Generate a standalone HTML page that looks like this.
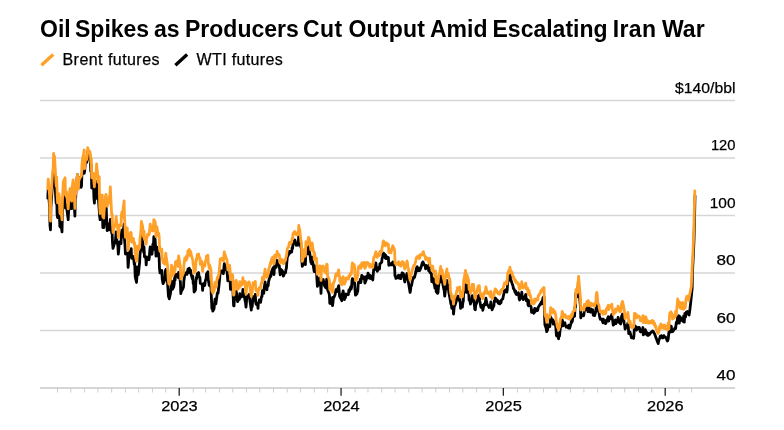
<!DOCTYPE html>
<html><head><meta charset="utf-8">
<style>
html,body{margin:0;padding:0;background:#fff;}
body{width:784px;height:430px;overflow:hidden;position:relative;font-family:"Liberation Sans",sans-serif;color:#000;}
#title{position:absolute;left:0;top:16px;font-size:23px;font-weight:bold;white-space:nowrap;line-height:26px;width:784px;height:26px;}
#title span{position:absolute;top:0;}
.leg{position:absolute;top:50.5px;font-size:16px;line-height:18px;white-space:nowrap;letter-spacing:0.45px;-webkit-text-stroke:0.25px #000;}
svg{position:absolute;left:0;top:0;}
svg text{font-family:"Liberation Sans",sans-serif;fill:#000;stroke:#000;stroke-width:0.25px;}
</style></head><body>
<div id="title"><span style="left:40px">Oil</span> <span style="left:75px">Spikes</span> <span style="left:154px">as</span> <span style="left:185px">Producers</span> <span style="left:303px;letter-spacing:0.4px">Cut</span> <span style="left:348.5px;letter-spacing:0.2px">Output</span> <span style="left:430px">Amid</span> <span style="left:492.5px">Escalating</span> <span style="left:612.7px;letter-spacing:0.4px">Iran</span> <span style="left:662px">War</span></div>
<div class="leg" style="left:62.5px">Brent futures</div>
<div class="leg" style="left:196.6px;letter-spacing:0.35px">WTI futures</div>
<svg width="784" height="430" viewBox="0 0 784 430">
<line x1="41.4" y1="65.3" x2="53.2" y2="54.5" stroke="#ffa028" stroke-width="3.3"/>
<line x1="175.4" y1="65.3" x2="187.1" y2="54.5" stroke="#000" stroke-width="3.3"/>
<g stroke="#d6d6d6" stroke-width="1.3">
<line x1="40" x2="735" y1="100.5" y2="100.5"/>
<line x1="40" x2="735" y1="158" y2="158"/>
<line x1="40" x2="735" y1="215.5" y2="215.5"/>
<line x1="40" x2="735" y1="273" y2="273"/>
<line x1="40" x2="735" y1="330.5" y2="330.5"/>
</g>
<line x1="40" x2="735" y1="388" y2="388" stroke="#d6d6d6" stroke-width="2"/>
<line x1="57.56" x2="57.56" y1="388" y2="392.5" stroke="#ccc" stroke-width="1"/>
<line x1="70.86" x2="70.86" y1="388" y2="392.5" stroke="#ccc" stroke-width="1"/>
<line x1="84.61" x2="84.61" y1="388" y2="392.5" stroke="#ccc" stroke-width="1"/>
<line x1="97.91" x2="97.91" y1="388" y2="392.5" stroke="#ccc" stroke-width="1"/>
<line x1="111.66" x2="111.66" y1="388" y2="392.5" stroke="#ccc" stroke-width="1"/>
<line x1="125.40" x2="125.40" y1="388" y2="392.5" stroke="#ccc" stroke-width="1"/>
<line x1="138.70" x2="138.70" y1="388" y2="392.5" stroke="#ccc" stroke-width="1"/>
<line x1="152.45" x2="152.45" y1="388" y2="392.5" stroke="#ccc" stroke-width="1"/>
<line x1="165.75" x2="165.75" y1="388" y2="392.5" stroke="#ccc" stroke-width="1"/>
<line x1="179.20" x2="179.20" y1="388" y2="395.8" stroke="#222" stroke-width="1.3"/>
<line x1="193.25" x2="193.25" y1="388" y2="392.5" stroke="#ccc" stroke-width="1"/>
<line x1="205.66" x2="205.66" y1="388" y2="392.5" stroke="#ccc" stroke-width="1"/>
<line x1="219.41" x2="219.41" y1="388" y2="392.5" stroke="#ccc" stroke-width="1"/>
<line x1="232.71" x2="232.71" y1="388" y2="392.5" stroke="#ccc" stroke-width="1"/>
<line x1="246.46" x2="246.46" y1="388" y2="392.5" stroke="#ccc" stroke-width="1"/>
<line x1="259.76" x2="259.76" y1="388" y2="392.5" stroke="#ccc" stroke-width="1"/>
<line x1="273.51" x2="273.51" y1="388" y2="392.5" stroke="#ccc" stroke-width="1"/>
<line x1="287.25" x2="287.25" y1="388" y2="392.5" stroke="#ccc" stroke-width="1"/>
<line x1="300.56" x2="300.56" y1="388" y2="392.5" stroke="#ccc" stroke-width="1"/>
<line x1="314.30" x2="314.30" y1="388" y2="392.5" stroke="#ccc" stroke-width="1"/>
<line x1="327.61" x2="327.61" y1="388" y2="392.5" stroke="#ccc" stroke-width="1"/>
<line x1="341.05" x2="341.05" y1="388" y2="395.8" stroke="#222" stroke-width="1.3"/>
<line x1="355.10" x2="355.10" y1="388" y2="392.5" stroke="#ccc" stroke-width="1"/>
<line x1="367.96" x2="367.96" y1="388" y2="392.5" stroke="#ccc" stroke-width="1"/>
<line x1="381.70" x2="381.70" y1="388" y2="392.5" stroke="#ccc" stroke-width="1"/>
<line x1="395.01" x2="395.01" y1="388" y2="392.5" stroke="#ccc" stroke-width="1"/>
<line x1="408.75" x2="408.75" y1="388" y2="392.5" stroke="#ccc" stroke-width="1"/>
<line x1="422.06" x2="422.06" y1="388" y2="392.5" stroke="#ccc" stroke-width="1"/>
<line x1="435.80" x2="435.80" y1="388" y2="392.5" stroke="#ccc" stroke-width="1"/>
<line x1="449.55" x2="449.55" y1="388" y2="392.5" stroke="#ccc" stroke-width="1"/>
<line x1="462.85" x2="462.85" y1="388" y2="392.5" stroke="#ccc" stroke-width="1"/>
<line x1="476.60" x2="476.60" y1="388" y2="392.5" stroke="#ccc" stroke-width="1"/>
<line x1="489.90" x2="489.90" y1="388" y2="392.5" stroke="#ccc" stroke-width="1"/>
<line x1="503.35" x2="503.35" y1="388" y2="395.8" stroke="#222" stroke-width="1.3"/>
<line x1="517.39" x2="517.39" y1="388" y2="392.5" stroke="#ccc" stroke-width="1"/>
<line x1="529.81" x2="529.81" y1="388" y2="392.5" stroke="#ccc" stroke-width="1"/>
<line x1="543.56" x2="543.56" y1="388" y2="392.5" stroke="#ccc" stroke-width="1"/>
<line x1="556.86" x2="556.86" y1="388" y2="392.5" stroke="#ccc" stroke-width="1"/>
<line x1="570.61" x2="570.61" y1="388" y2="392.5" stroke="#ccc" stroke-width="1"/>
<line x1="583.91" x2="583.91" y1="388" y2="392.5" stroke="#ccc" stroke-width="1"/>
<line x1="597.66" x2="597.66" y1="388" y2="392.5" stroke="#ccc" stroke-width="1"/>
<line x1="611.40" x2="611.40" y1="388" y2="392.5" stroke="#ccc" stroke-width="1"/>
<line x1="624.70" x2="624.70" y1="388" y2="392.5" stroke="#ccc" stroke-width="1"/>
<line x1="638.45" x2="638.45" y1="388" y2="392.5" stroke="#ccc" stroke-width="1"/>
<line x1="651.75" x2="651.75" y1="388" y2="392.5" stroke="#ccc" stroke-width="1"/>
<line x1="665.20" x2="665.20" y1="388" y2="395.8" stroke="#222" stroke-width="1.3"/>
<line x1="679.25" x2="679.25" y1="388" y2="392.5" stroke="#ccc" stroke-width="1"/>
<line x1="691.66" x2="691.66" y1="388" y2="392.5" stroke="#ccc" stroke-width="1"/>
<g font-size="15.5" text-anchor="end" lengthAdjust="spacingAndGlyphs">
<text x="735.5" y="93.2" textLength="60.4" lengthAdjust="spacingAndGlyphs">$140/bbl</text>
<text x="735.5" y="150.3" textLength="24.6" lengthAdjust="spacingAndGlyphs">120</text>
<text x="735.5" y="208.3" textLength="25.8" lengthAdjust="spacingAndGlyphs">100</text>
<text x="735.5" y="265.3" textLength="19" lengthAdjust="spacingAndGlyphs">80</text>
<text x="735.5" y="323.3" textLength="19" lengthAdjust="spacingAndGlyphs">60</text>
<text x="735.5" y="380.3" textLength="19" lengthAdjust="spacingAndGlyphs">40</text>
</g>
<g font-size="15.5" text-anchor="middle">
<text x="179.5" y="411.2" textLength="36.5" lengthAdjust="spacingAndGlyphs">2023</text>
<text x="341.4" y="411.2" textLength="36.5" lengthAdjust="spacingAndGlyphs">2024</text>
<text x="503.6" y="411.2" textLength="36.5" lengthAdjust="spacingAndGlyphs">2025</text>
<text x="665.3" y="411.2" textLength="36.5" lengthAdjust="spacingAndGlyphs">2026</text>
</g>
<polyline fill="none" stroke="#000" stroke-width="2.8" stroke-linejoin="round" stroke-linecap="round" points="47.8,198.2 48.2,188.7 49.6,206.8 50.0,225.7 50.5,229.8 50.9,206.9 51.3,202.0 52.7,180.7 53.1,181.7 53.6,172.6 54.0,180.0 54.5,175.5 55.8,198.4 56.2,203.3 56.7,193.0 57.1,214.7 57.6,217.6 58.9,206.1 59.3,209.9 59.8,226.3 60.2,226.9 60.7,220.5 62.0,231.9 62.4,213.8 62.9,203.3 63.3,195.5 65.1,191.9 65.5,208.1 66.0,207.6 66.4,204.6 66.9,209.5 68.2,219.7 68.6,210.6 69.1,209.7 69.5,200.1 70.0,202.0 71.3,200.6 71.7,208.6 72.2,193.0 72.6,191.8 73.1,187.4 74.4,206.6 74.9,216.2 75.3,199.1 75.7,197.9 76.2,185.3 77.5,174.7 78.0,179.8 78.4,187.9 78.8,180.4 79.3,177.5 80.6,185.9 81.1,187.4 81.5,185.8 81.9,175.0 82.4,172.2 84.2,173.3 84.6,171.6 85.0,167.0 85.5,161.2 86.8,162.3 87.3,159.7 87.7,151.9 88.2,153.7 88.6,156.1 89.9,155.3 90.4,161.1 90.8,171.5 91.3,164.9 91.7,188.0 93.5,184.9 93.9,197.7 94.4,203.2 94.8,193.6 96.1,188.0 96.6,181.7 97.0,187.4 97.5,198.9 97.9,191.3 99.7,216.9 100.1,219.7 100.6,207.7 101.0,201.7 102.3,203.7 102.8,227.5 103.2,226.1 103.7,227.6 104.1,222.4 105.4,208.0 105.9,203.4 106.3,209.0 106.8,226.0 107.2,230.7 108.6,225.0 109.0,229.9 109.4,223.4 109.9,225.8 110.3,219.5 111.7,233.1 112.1,231.5 112.5,242.4 113.0,248.4 113.4,247.1 114.8,242.1 115.2,242.8 115.6,238.7 116.1,231.8 116.5,238.2 117.9,245.9 118.3,254.2 118.8,249.7 119.2,242.8 119.6,242.0 121.0,243.6 121.4,233.5 121.9,230.2 122.3,237.0 122.7,235.5 124.1,224.1 124.5,239.5 125.0,245.5 125.4,254.0 125.8,253.2 127.6,253.2 128.1,267.4 128.5,262.8 128.9,253.5 130.3,250.6 130.7,252.0 131.2,248.6 131.6,258.3 132.1,258.3 133.4,256.5 133.8,260.2 134.3,264.5 134.7,263.0 135.2,276.6 136.5,282.5 136.9,277.3 137.4,266.8 137.8,269.5 138.3,274.5 139.6,262.6 140.0,254.3 140.5,250.7 140.9,248.7 141.4,236.7 142.7,241.0 143.1,246.1 143.6,252.1 144.0,246.8 144.5,256.9 145.8,257.3 146.2,264.9 146.7,257.0 147.1,260.0 147.6,258.5 148.9,259.8 149.3,257.7 149.8,250.3 150.2,246.9 150.7,250.3 152.0,254.2 152.5,248.9 152.9,244.2 153.3,249.5 153.8,236.7 155.1,239.1 155.6,247.4 156.0,256.2 156.4,254.4 156.9,247.2 158.2,256.1 158.7,253.1 159.1,256.9 159.5,268.3 160.0,272.8 161.3,272.9 161.8,270.3 162.2,278.9 163.1,283.7 164.4,280.9 164.9,278.2 165.3,271.4 165.8,269.5 166.2,273.1 167.5,281.8 168.0,289.5 168.4,296.0 168.9,297.6 169.3,298.8 170.6,292.6 171.1,286.3 171.5,280.8 172.0,284.2 172.4,289.4 173.7,286.8 174.2,284.2 174.6,277.9 175.1,280.2 175.5,274.3 177.3,274.4 177.7,276.0 178.2,277.6 178.6,272.3 180.4,281.8 180.8,293.6 181.3,291.2 181.7,290.9 183.0,288.4 183.5,287.0 183.9,280.4 184.4,277.6 184.8,273.4 186.6,272.5 187.0,274.5 187.5,272.1 187.9,269.2 189.3,268.3 189.7,272.6 190.1,272.6 190.6,270.1 191.0,273.9 192.4,279.0 192.8,276.2 193.2,283.3 193.7,284.8 194.1,292.0 195.5,289.9 195.9,281.2 196.4,277.4 196.8,278.6 197.2,273.8 198.6,272.6 199.0,275.7 199.5,277.1 199.9,277.3 200.3,283.5 202.1,284.0 202.6,290.4 203.0,286.3 203.4,283.6 204.8,285.4 205.2,281.5 205.7,279.6 206.1,278.3 206.5,273.9 207.9,271.7 208.3,280.0 208.8,282.6 209.2,285.3 209.7,282.5 211.0,287.9 211.4,297.9 211.9,308.6 212.3,306.5 212.8,311.1 214.1,308.5 214.5,303.7 215.0,299.2 215.4,301.9 215.9,303.9 217.2,293.7 217.6,292.6 218.1,293.2 218.5,289.2 219.0,285.4 220.3,271.8 220.7,271.0 221.2,271.2 221.6,271.0 223.4,273.7 223.8,268.6 224.3,263.6 224.7,266.8 225.2,265.8 226.5,270.6 226.9,270.5 227.4,275.4 227.8,280.8 228.3,279.1 229.6,276.6 230.1,281.4 230.5,289.4 230.9,288.1 231.4,282.3 232.7,285.5 233.2,297.0 233.6,305.8 234.0,305.9 234.5,297.9 235.8,292.7 236.3,291.1 236.7,294.4 237.1,299.2 237.6,301.6 238.9,298.6 239.4,299.3 239.8,293.6 240.2,296.4 240.7,297.3 242.0,296.0 242.5,293.4 242.9,289.3 243.4,296.5 243.8,294.1 245.6,303.3 246.0,307.2 246.5,301.5 246.9,296.7 248.2,295.6 248.7,296.7 249.1,294.5 249.6,298.0 250.0,301.3 251.3,310.0 251.8,303.4 252.2,306.7 252.7,300.0 253.1,296.6 254.9,300.3 255.3,294.5 255.8,303.2 256.2,304.2 257.5,303.6 258.0,308.4 258.4,303.0 258.9,302.2 259.3,299.9 260.6,302.4 261.5,296.6 262.0,296.6 262.4,290.7 263.8,293.2 264.2,287.9 264.6,285.2 265.1,281.9 265.5,286.2 266.9,289.8 267.3,285.2 267.7,286.4 268.2,285.5 268.6,281.4 270.0,276.6 270.4,274.1 270.8,276.5 271.3,272.7 271.7,271.3 273.1,267.8 273.5,269.1 274.0,274.5 274.4,268.5 274.8,264.9 276.2,267.4 276.6,264.6 277.1,260.3 277.5,264.9 277.9,263.8 279.3,265.8 279.7,270.2 280.2,274.8 280.6,271.9 281.0,269.4 282.4,270.9 282.8,272.0 283.3,276.2 283.7,275.7 284.1,273.5 285.5,272.7 285.9,269.7 286.4,268.3 286.8,262.6 287.3,257.0 289.0,253.8 289.5,251.3 289.9,253.2 290.4,251.4 291.7,252.0 292.1,247.6 292.6,248.5 293.0,243.8 293.5,242.0 294.8,240.0 295.2,240.8 295.7,243.4 296.1,245.3 296.6,244.2 297.9,245.2 298.3,243.1 298.8,233.7 299.2,239.3 299.7,242.0 301.0,247.6 301.4,246.5 301.9,260.9 302.3,266.4 302.8,265.0 304.1,254.7 304.5,255.8 305.0,263.0 305.4,264.6 305.9,250.9 307.2,253.9 307.7,253.9 308.1,249.1 308.5,246.1 309.0,247.8 310.3,257.2 310.8,262.2 311.2,257.5 311.6,263.8 312.1,257.1 313.4,266.4 313.9,270.1 314.3,271.7 314.7,265.9 315.2,271.5 316.5,270.6 317.0,280.6 317.4,286.4 317.9,285.2 318.3,281.1 319.6,278.0 320.1,278.0 320.5,282.6 321.0,293.4 321.4,284.8 322.7,279.9 323.2,279.4 323.6,281.3 324.5,285.8 325.8,287.8 326.3,283.3 326.7,279.2 327.2,284.6 327.6,290.0 328.9,293.0 329.4,295.1 329.8,303.5 330.3,303.6 330.7,298.2 332.0,298.0 332.5,305.7 332.9,303.3 333.4,297.2 333.8,297.6 335.1,294.6 335.6,291.9 336.0,289.6 336.5,290.6 336.9,291.5 338.7,285.7 339.1,289.9 339.6,296.7 340.0,297.0 341.8,300.7 342.2,294.0 342.7,295.5 343.1,290.8 344.5,299.5 344.9,295.3 345.3,297.8 345.8,295.9 346.2,294.0 348.0,294.8 348.4,294.4 348.9,290.0 349.3,291.9 350.7,286.8 351.1,289.2 351.6,287.1 352.0,280.6 352.4,278.7 353.8,282.3 354.2,279.3 354.7,284.9 355.1,290.8 355.5,295.2 356.9,293.8 357.3,292.2 357.8,290.7 358.2,283.9 358.6,282.1 360.0,281.9 360.4,279.1 360.9,282.7 361.3,278.7 361.8,275.3 363.5,278.2 364.0,279.0 364.4,277.0 364.9,283.1 366.2,280.0 366.6,276.2 367.1,277.2 367.5,278.0 368.0,273.1 369.3,276.6 369.7,278.3 370.2,275.5 370.6,276.1 371.1,278.7 372.4,279.0 372.8,280.0 373.3,273.8 373.7,269.4 374.2,270.0 375.5,265.2 375.9,263.0 376.4,268.2 376.8,269.9 377.3,271.2 378.6,267.4 379.0,268.3 379.5,269.1 379.9,263.9 381.7,262.3 382.1,258.2 382.6,257.4 383.0,254.1 383.5,253.1 384.8,254.5 385.3,258.0 385.7,255.1 386.1,258.6 386.6,256.7 387.9,257.4 388.4,257.6 388.8,265.3 389.2,265.2 389.7,264.0 391.0,264.8 391.5,263.3 391.9,264.9 392.3,262.7 392.8,261.9 394.1,265.4 394.6,267.5 395.0,275.9 395.5,276.0 395.9,278.4 397.2,277.4 397.7,277.7 398.1,275.9 398.6,275.1 399.0,278.0 400.3,275.5 400.8,278.7 401.2,276.9 401.7,275.2 402.1,272.8 403.4,273.6 403.9,275.1 404.3,280.0 404.8,282.0 405.2,279.6 407.0,273.5 407.4,275.2 407.9,279.0 408.3,281.7 409.6,289.6 410.1,292.4 410.5,290.0 411.0,285.8 411.4,285.9 412.7,279.5 413.2,279.0 413.6,277.3 414.1,277.0 414.5,277.5 415.8,272.1 416.3,268.5 417.2,266.8 417.6,270.9 419.0,268.3 419.4,270.6 419.8,270.4 420.3,268.0 420.7,268.6 422.1,263.3 422.5,264.9 422.9,261.8 423.8,263.9 425.2,266.3 425.6,268.9 426.0,267.0 426.5,265.5 426.9,266.6 428.3,267.5 428.7,270.8 429.2,264.8 429.6,264.9 430.0,272.6 431.4,273.6 431.8,281.7 432.3,279.9 432.7,277.9 433.1,281.2 434.5,285.0 434.9,288.2 435.4,279.0 435.8,283.6 436.2,291.6 437.6,293.3 438.0,292.6 438.5,286.7 438.9,284.0 439.4,282.1 440.7,272.8 441.1,277.7 441.6,281.7 442.0,278.3 442.5,282.6 443.8,289.2 444.2,290.1 444.7,296.2 445.1,293.1 445.6,287.9 446.9,280.4 447.3,285.9 447.8,288.8 448.2,284.8 448.7,291.5 450.4,300.8 450.9,304.1 451.3,304.2 451.8,308.4 453.1,305.5 453.5,314.0 454.0,309.5 454.4,304.7 454.9,305.6 456.2,301.5 456.6,298.3 457.1,299.1 457.5,296.1 458.0,296.2 459.3,300.7 459.7,297.3 460.2,302.6 460.6,308.4 461.1,307.0 462.4,307.0 462.9,302.2 463.3,301.5 463.7,291.1 464.2,289.2 465.5,281.2 466.0,291.5 466.4,292.4 466.8,284.9 467.3,285.8 468.6,290.7 469.1,300.1 469.5,300.6 469.9,299.8 470.4,304.0 471.7,300.1 472.2,295.7 472.6,299.5 473.1,301.2 473.5,296.6 474.8,309.3 475.3,309.8 475.7,305.7 476.2,303.9 476.6,303.2 477.9,297.5 478.4,296.0 478.8,296.9 479.3,295.0 479.7,300.7 481.0,307.4 481.5,307.2 481.9,306.3 482.4,305.5 482.8,310.3 484.1,304.2 484.6,303.5 485.0,305.0 485.5,301.5 485.9,298.2 487.2,304.8 487.7,305.3 488.1,305.4 489.0,307.5 490.3,307.2 490.8,301.9 491.2,305.9 491.7,306.6 492.1,309.8 493.4,306.4 493.9,305.8 494.3,300.9 494.8,301.7 495.2,298.0 496.6,299.7 497.0,301.5 497.4,300.1 497.9,302.0 498.3,303.3 499.7,303.9 500.1,301.5 501.0,302.8 501.4,300.0 502.8,298.9 503.2,296.8 504.1,292.8 504.5,290.4 505.9,291.5 506.3,289.5 506.8,292.2 507.2,290.5 507.6,282.9 509.0,276.4 509.4,280.2 509.9,272.9 510.3,276.8 510.7,279.1 512.5,284.8 513.0,286.1 513.4,288.5 513.8,288.4 515.2,292.6 515.6,290.9 516.1,294.2 516.5,293.9 517.0,294.5 518.3,292.7 518.7,294.0 519.2,298.8 519.6,300.0 520.1,298.9 521.4,295.1 521.8,292.2 522.3,297.8 522.7,298.0 523.2,299.6 524.9,296.4 525.4,295.3 525.8,294.4 526.3,300.6 527.6,299.7 528.0,304.8 528.5,305.7 528.9,300.7 529.4,302.4 530.7,306.4 531.1,306.8 531.6,312.4 532.0,312.2 532.5,310.3 533.8,313.2 534.2,312.5 534.7,308.4 535.1,311.7 535.6,309.9 536.9,308.7 537.3,310.7 537.8,309.9 538.2,307.3 538.7,306.7 540.0,304.3 540.5,304.6 540.9,302.8 541.3,302.0 541.8,303.6 543.1,297.5 543.6,298.3 544.0,296.8 544.4,310.5 544.9,324.8 546.2,328.5 546.7,331.7 547.1,323.7 547.5,330.3 548.0,326.2 549.3,326.1 549.8,326.7 550.2,323.4 550.7,317.0 552.4,321.6 552.9,319.9 553.3,324.0 553.8,322.5 554.2,321.8 555.5,324.6 556.0,329.3 556.4,335.6 556.9,332.7 557.3,335.4 558.6,338.8 559.1,333.1 559.5,336.0 560.0,330.8 560.4,327.6 561.7,324.9 562.2,319.9 562.6,321.4 563.1,325.8 563.5,323.3 564.8,322.8 565.3,324.7 565.7,326.0 566.2,327.1 566.6,326.1 568.4,327.9 568.8,325.2 569.3,327.8 569.7,328.2 571.0,323.3 571.5,320.7 571.9,322.3 572.4,320.8 572.8,317.3 574.2,315.3 574.6,316.2 575.0,307.1 575.5,307.4 575.9,293.2 577.3,296.7 577.7,287.8 578.1,287.0 579.0,290.7 580.4,306.0 580.8,317.9 581.2,316.4 581.7,315.4 582.1,314.6 583.5,315.8 583.9,314.8 584.4,309.1 584.8,310.4 586.6,307.7 587.0,306.6 587.5,306.4 587.9,311.6 588.3,306.2 589.7,310.4 590.1,311.8 590.6,312.2 591.0,308.8 591.4,309.4 592.8,309.8 593.2,315.2 593.7,315.4 594.1,313.2 594.6,315.7 595.9,311.2 596.3,304.0 596.8,301.8 597.2,303.9 597.7,309.4 599.0,312.4 599.4,315.7 599.9,318.0 600.3,319.3 600.8,319.3 602.1,319.1 602.5,321.4 603.0,322.9 603.4,319.1 603.9,322.4 605.2,320.7 605.6,323.7 606.1,322.7 606.5,320.4 607.0,320.0 608.3,316.7 608.7,321.2 609.2,318.6 609.6,317.3 610.1,319.0 611.8,314.4 612.3,319.1 612.7,320.5 613.2,325.1 614.5,324.0 614.9,322.9 615.4,319.9 615.8,323.7 616.3,322.8 617.6,321.0 618.1,317.5 618.5,318.9 618.9,320.2 619.4,322.8 620.7,323.9 621.2,320.7 621.6,316.2 622.0,316.2 622.5,314.1 623.8,320.6 624.3,323.7 624.7,325.4 625.1,329.1 625.6,328.0 626.9,325.6 627.4,325.5 627.8,323.2 628.3,326.2 628.7,333.7 630.0,332.0 630.5,334.2 630.9,335.5 631.4,337.8 631.8,337.6 633.1,337.6 633.6,338.4 634.0,334.8 634.5,325.4 634.9,326.2 636.2,326.7 636.7,330.1 637.1,329.1 637.6,328.9 638.0,327.7 639.3,327.5 639.8,328.9 640.2,331.6 640.7,332.1 641.1,331.2 642.4,330.1 642.9,327.5 643.3,334.8 643.8,334.3 644.2,330.2 644.8,332.1 645.4,329.6 646.0,334.0 646.6,332.1 647.3,335.3 647.9,333.3 648.5,335.3 649.1,333.4 649.7,334.4 650.3,333.1 651.0,332.4 651.6,331.9 652.2,331.3 652.8,331.0 653.4,331.9 654.0,332.8 654.7,334.2 655.3,335.8 655.9,337.5 656.5,339.1 657.1,340.7 657.7,342.3 658.2,343.6 659.0,339.5 659.6,338.8 660.2,336.2 660.8,337.2 661.4,335.6 662.1,337.8 662.7,336.4 663.3,337.8 663.9,335.6 664.5,337.0 665.2,336.8 665.8,337.4 666.4,338.6 667.0,340.4 667.5,341.0 668.2,339.2 668.9,332.1 669.5,332.6 670.1,327.5 670.5,325.9 671.3,326.3 671.9,331.9 672.6,331.5 673.2,330.8 673.8,330.0 674.4,329.2 675.0,327.8 675.6,328.6 676.3,322.3 676.9,323.5 677.6,317.1 678.1,321.5 678.7,315.6 679.3,323.1 680.0,316.6 680.6,320.5 681.2,318.0 681.8,320.4 682.4,318.3 683.1,321.5 683.7,315.9 684.3,322.2 684.9,313.4 685.5,317.1 686.3,312.2 687.2,311.5 688.1,313.6 689.1,315.0 690.0,308.7 690.8,301.7 691.5,294.8 692.2,287.8 692.4,273.0 693.3,256.0 694.0,240.0 694.5,220.0 695.0,196.0"/>
<polyline fill="none" stroke="#ffa028" stroke-width="2.8" stroke-linejoin="round" stroke-linecap="round" points="47.8,188.7 48.2,179.1 49.6,195.7 50.0,215.8 50.5,221.2 50.9,196.4 51.3,192.7 52.7,170.6 53.1,171.0 53.6,153.4 54.0,160.8 54.5,156.1 55.8,179.6 56.2,186.1 56.7,176.8 57.1,192.8 57.6,202.9 58.9,193.9 59.3,196.4 59.8,212.4 60.2,213.8 60.7,207.5 62.0,219.9 62.4,202.2 62.9,190.3 63.3,181.9 65.1,177.7 65.5,194.7 66.0,196.0 66.4,191.6 66.9,196.4 68.2,208.8 68.6,201.2 69.1,200.2 69.5,193.7 70.0,188.6 71.3,193.7 71.7,201.2 72.2,186.3 72.6,184.2 73.1,179.9 74.4,198.4 74.9,208.4 75.3,193.9 75.7,194.1 76.2,182.3 77.5,174.6 78.0,181.2 78.4,189.3 78.8,180.9 79.3,179.4 80.6,176.9 81.1,176.5 81.5,175.2 81.9,165.5 82.4,159.6 83.7,153.2 84.2,149.8 84.6,168.7 85.0,164.9 85.5,158.9 86.8,159.4 87.3,156.3 87.7,147.7 88.2,149.1 88.6,152.2 89.9,151.4 90.4,154.5 90.8,162.3 91.3,158.6 91.7,177.8 93.0,175.0 93.5,173.4 93.9,181.9 94.4,186.8 94.8,177.8 96.1,172.1 96.6,163.8 97.0,168.6 97.5,173.0 97.9,182.2 99.2,176.7 99.7,207.5 100.1,213.5 100.6,202.1 101.0,195.4 102.3,195.1 102.8,216.9 103.2,216.7 103.7,218.1 104.1,212.0 105.4,197.4 105.9,194.4 106.3,195.7 106.8,204.3 107.2,206.3 108.6,200.7 109.0,202.8 109.4,196.5 109.9,195.1 110.3,186.8 111.7,215.5 112.1,214.1 112.5,224.7 113.0,232.5 113.4,230.2 114.8,225.1 115.2,226.1 115.6,223.0 116.1,216.7 116.5,220.8 117.9,229.6 118.3,237.6 118.8,233.8 119.2,225.3 119.6,225.0 121.0,225.6 121.4,214.9 121.9,212.0 122.3,217.5 122.7,212.6 124.1,200.8 124.5,217.5 125.0,225.6 125.4,237.3 125.8,235.6 127.2,227.9 127.6,236.2 128.1,250.0 128.5,246.7 128.9,236.2 130.3,232.8 130.7,235.0 131.2,232.5 131.6,242.0 132.1,240.4 133.4,238.5 133.8,242.5 134.3,244.8 134.7,242.8 135.2,255.3 136.5,261.3 136.9,255.0 137.4,246.2 137.8,248.6 138.3,250.1 139.6,247.5 140.0,239.1 140.5,234.6 140.9,231.5 141.4,221.5 142.7,226.5 143.1,231.9 143.6,237.2 144.0,231.1 144.5,239.6 145.8,239.6 146.2,244.2 146.7,237.3 147.1,237.4 147.6,234.2 148.9,234.9 149.3,234.1 149.8,227.9 150.2,224.2 150.7,227.7 152.0,230.4 152.5,230.9 152.9,226.5 153.3,230.8 153.8,219.6 155.1,221.5 155.6,228.8 156.0,236.6 156.4,233.7 156.9,227.0 158.2,235.2 158.7,233.2 159.1,236.0 159.5,244.9 160.0,251.1 161.3,251.6 161.8,249.0 162.2,257.4 163.1,262.6 164.4,263.8 164.9,264.3 165.3,257.4 165.8,253.2 166.2,257.0 167.5,265.3 168.0,274.9 168.4,281.1 168.9,284.1 169.3,284.2 170.6,278.8 171.1,271.0 171.5,265.2 172.0,269.5 172.4,275.8 173.7,273.6 174.2,273.0 174.6,266.7 175.1,270.1 175.5,261.8 177.3,260.6 177.7,263.5 178.2,266.4 178.6,256.0 180.4,267.0 180.8,279.2 181.3,276.8 181.7,277.1 183.0,274.0 183.5,272.7 183.9,265.3 184.4,261.4 184.8,257.8 186.2,260.2 186.6,256.0 187.0,258.7 187.5,255.3 187.9,251.1 189.3,249.5 189.7,255.4 190.1,255.4 190.6,251.5 191.0,253.9 192.4,258.9 192.8,260.1 193.2,264.8 193.7,266.8 194.1,273.2 195.5,270.2 195.9,262.4 196.4,258.4 196.8,260.1 197.2,254.6 198.6,254.0 199.0,257.0 199.5,257.5 199.9,258.2 200.3,264.4 201.7,261.3 202.1,264.2 202.6,271.3 203.0,266.6 203.4,263.9 204.8,266.0 205.2,261.8 205.7,260.6 206.1,259.3 206.5,256.2 207.9,255.2 208.3,263.5 208.8,265.4 209.2,268.4 209.7,265.0 211.0,270.8 211.4,280.3 211.9,291.1 212.3,288.2 212.8,293.2 214.1,290.9 214.5,286.5 215.0,282.5 215.4,284.8 215.9,287.4 217.2,278.4 217.6,276.9 218.1,277.9 218.5,275.1 219.0,273.7 220.3,258.8 220.7,258.8 221.2,258.7 221.6,258.3 223.4,261.0 223.8,256.9 224.3,251.9 224.7,255.5 225.2,254.9 226.5,259.3 226.9,259.3 227.4,264.0 227.8,269.8 228.3,268.2 229.6,265.2 230.1,270.8 230.5,279.6 230.9,277.7 231.4,274.3 232.7,275.0 233.2,286.5 233.6,295.1 234.0,294.6 234.5,286.5 235.8,281.6 236.3,280.4 236.7,283.3 237.1,287.4 237.6,289.8 238.9,286.7 239.4,287.6 239.8,281.7 240.2,284.9 240.7,285.7 242.0,284.5 242.5,282.1 242.9,277.7 243.4,283.8 243.8,281.8 245.1,281.4 245.6,291.6 246.0,294.1 246.5,289.4 246.9,284.1 248.2,282.5 248.7,283.7 249.1,281.8 249.6,284.6 250.0,288.0 251.3,296.5 251.8,289.4 252.2,292.6 252.7,285.4 253.1,282.7 254.4,284.2 254.9,284.8 255.3,281.3 255.8,289.8 256.2,290.7 257.5,289.7 258.0,295.3 258.4,290.2 258.9,289.3 259.3,287.7 260.6,288.4 261.1,283.8 261.5,282.6 262.0,283.0 262.4,277.4 263.8,279.6 264.2,274.7 264.6,272.7 265.1,269.1 265.5,273.4 266.9,277.3 267.3,274.1 267.7,274.6 268.2,274.0 268.6,269.9 270.0,265.1 270.4,262.5 270.8,264.6 271.3,260.8 271.7,258.7 273.1,257.0 273.5,258.9 274.0,263.8 274.4,258.2 274.8,255.1 276.2,257.6 276.6,255.3 277.1,251.3 277.5,254.6 277.9,253.4 279.3,255.1 279.7,258.9 280.2,263.1 280.6,261.2 281.0,259.2 282.4,260.2 282.8,261.4 283.3,263.8 283.7,263.3 284.1,260.1 285.5,260.3 285.9,257.2 286.4,256.2 286.8,253.3 287.3,248.4 288.6,247.1 289.0,244.1 289.5,242.5 289.9,244.5 290.4,242.4 291.7,242.4 292.1,238.3 292.6,238.8 293.0,233.6 293.5,233.0 294.8,231.5 295.2,231.8 295.7,234.1 296.1,234.8 296.6,234.8 297.9,234.8 298.3,232.9 298.8,225.4 299.2,228.8 299.7,229.0 301.0,242.2 301.4,241.6 301.9,256.3 302.3,261.3 302.8,259.8 304.1,249.6 304.5,251.0 305.0,256.3 305.4,255.8 305.9,241.7 307.2,245.3 307.7,244.5 308.1,239.9 308.5,237.4 309.0,238.0 310.3,244.7 310.8,249.8 311.2,243.9 311.6,250.2 312.1,242.9 313.4,251.6 313.9,251.7 314.3,259.7 314.7,253.3 315.2,258.9 316.5,258.1 317.0,268.4 317.4,274.3 317.9,273.0 318.3,268.9 319.6,265.8 320.1,265.9 320.5,269.6 321.0,280.4 321.4,271.2 322.7,266.3 323.2,266.0 323.6,267.4 324.1,268.9 324.5,271.3 325.8,273.1 326.3,268.2 326.7,264.1 327.2,264.9 327.6,276.2 328.9,278.7 329.4,281.1 329.8,289.4 330.3,290.1 330.7,285.0 332.0,284.4 332.5,292.4 332.9,289.5 333.4,282.7 333.8,282.9 335.1,278.9 335.6,275.2 336.0,273.9 336.5,274.8 336.9,275.7 338.7,269.9 339.1,274.0 339.6,277.6 340.0,281.5 341.8,284.8 342.2,278.0 342.7,279.9 343.1,276.6 344.5,284.2 344.9,279.9 345.3,282.2 345.8,280.4 346.2,277.9 347.6,278.3 348.0,277.9 348.4,279.1 348.9,275.6 349.3,277.1 350.7,272.8 351.1,274.3 351.6,272.9 352.0,266.0 352.4,262.8 353.8,266.1 354.2,264.7 354.7,268.1 355.1,276.7 355.5,280.7 356.9,278.8 357.3,277.1 357.8,275.3 358.2,268.3 358.6,266.7 360.0,267.2 360.4,265.0 360.9,268.4 361.3,264.8 361.8,263.0 363.1,262.8 363.5,266.3 364.0,264.3 364.4,262.4 364.9,268.3 366.2,265.7 366.6,262.5 367.1,262.4 367.5,262.6 368.0,262.8 369.3,264.9 369.7,267.1 370.2,264.5 370.6,264.5 371.1,267.0 372.4,266.6 372.8,267.5 373.3,261.4 373.7,257.4 374.2,257.6 375.5,253.2 375.9,251.8 376.4,255.9 376.8,256.4 377.3,257.4 378.6,253.6 379.0,255.0 379.5,255.5 379.9,251.5 381.7,251.7 382.1,247.4 382.6,246.1 383.0,242.4 383.5,240.9 384.8,243.2 385.3,245.9 385.7,242.9 386.1,245.0 386.6,243.0 387.9,244.0 388.4,244.2 388.8,252.0 389.2,252.6 389.7,252.0 391.0,252.9 391.5,248.8 391.9,249.9 392.3,247.1 392.8,245.7 394.1,248.8 394.6,250.4 395.0,263.1 395.5,262.4 395.9,264.5 397.2,263.4 397.7,263.9 398.1,262.7 398.6,261.8 399.0,265.0 400.3,263.3 400.8,266.2 401.2,265.1 401.7,263.6 402.1,261.6 403.4,262.3 403.9,264.7 404.3,267.5 404.8,269.1 405.2,266.9 406.5,264.1 407.0,260.9 407.4,262.7 407.9,267.7 408.3,268.3 409.6,277.7 410.1,280.1 410.5,277.6 411.0,273.4 411.4,274.1 412.7,268.3 413.2,267.5 413.6,265.5 414.1,265.1 414.5,265.5 415.8,260.8 416.3,257.7 416.7,258.4 417.2,256.6 417.6,257.9 419.0,255.7 419.4,258.6 419.8,257.9 420.3,254.6 420.7,254.6 422.1,254.0 422.5,255.1 422.9,251.9 423.4,251.6 423.8,254.2 425.2,256.5 425.6,259.6 426.0,258.4 426.5,257.5 426.9,258.5 428.3,259.1 428.7,262.3 429.2,258.4 429.6,258.3 430.0,265.4 431.4,266.1 431.8,270.1 432.3,268.1 432.7,266.2 433.1,269.8 434.5,273.6 434.9,276.9 435.4,270.9 435.8,274.4 436.2,282.2 437.6,283.6 438.0,283.1 438.5,277.8 438.9,275.4 439.4,274.0 440.7,266.4 441.1,271.0 441.6,273.7 442.0,270.0 442.5,273.9 443.8,279.7 444.2,281.1 444.7,284.4 445.1,281.0 445.6,275.8 446.9,268.9 447.3,274.3 447.8,276.9 448.2,273.2 448.7,276.4 450.0,280.1 450.4,291.0 450.9,294.0 451.3,294.0 451.8,298.7 453.1,296.5 453.5,304.1 454.0,300.0 454.4,296.1 454.9,297.1 456.2,293.8 456.6,291.1 457.1,291.3 457.5,287.7 458.0,288.8 459.3,290.5 459.7,286.9 460.2,291.8 460.6,297.2 461.1,296.1 462.4,296.7 462.9,291.5 463.3,290.5 463.7,279.8 464.2,278.6 465.5,270.3 466.0,281.1 466.4,282.8 466.8,274.7 467.3,275.8 468.6,280.3 469.1,289.5 469.5,289.6 469.9,289.0 470.4,293.0 471.7,289.4 472.2,284.4 472.6,287.5 473.1,289.2 473.5,284.4 474.8,297.7 475.3,298.5 475.7,294.4 476.2,292.7 476.6,292.8 477.9,287.1 478.4,285.9 478.8,287.6 479.3,285.6 479.7,290.6 481.0,296.5 481.5,296.3 481.9,295.2 482.4,294.4 482.8,298.8 484.1,292.3 484.6,292.2 485.0,293.7 485.5,289.6 485.9,286.9 487.2,293.1 487.7,293.7 488.1,293.6 488.6,292.3 489.0,293.3 490.3,296.5 490.8,291.3 491.2,295.1 491.7,295.7 492.1,298.5 493.4,295.6 493.9,295.5 494.3,291.6 494.8,291.9 495.2,288.8 496.6,290.5 497.0,292.6 497.4,292.0 497.9,293.5 498.3,293.3 499.7,294.2 500.1,291.5 501.0,292.4 501.4,289.8 502.8,289.1 503.2,288.4 504.1,284.7 504.5,283.0 505.9,283.6 506.3,281.5 506.8,284.0 507.2,281.9 507.6,273.7 509.0,270.1 509.4,273.2 509.9,267.2 510.3,269.3 510.7,270.7 512.1,272.6 512.5,275.0 513.0,275.9 513.4,277.9 513.8,277.3 515.2,281.4 515.6,280.2 516.1,282.8 516.5,282.0 517.0,282.3 518.3,284.6 518.7,283.9 519.2,288.5 519.6,289.4 520.1,288.4 521.4,284.9 521.8,281.6 522.3,286.9 522.7,287.3 523.2,288.1 524.5,286.7 524.9,285.0 525.4,284.4 525.8,283.1 526.3,289.0 527.6,288.0 528.0,293.1 528.5,294.5 528.9,290.1 529.4,292.6 530.7,297.1 531.1,298.8 531.6,303.8 532.0,303.3 532.5,300.7 533.8,303.8 534.2,303.0 534.7,299.0 535.1,302.1 535.6,300.1 536.9,298.7 537.3,300.1 537.8,299.5 538.2,296.0 538.7,295.5 540.0,293.1 540.5,293.1 540.9,290.9 541.3,290.2 541.8,291.3 543.1,288.1 543.6,288.8 544.0,287.5 544.4,301.3 544.9,314.5 546.2,318.4 546.7,322.4 547.1,314.7 547.5,320.9 548.0,316.8 549.3,316.5 549.8,317.1 550.2,313.7 550.7,307.6 552.4,312.5 552.9,309.1 553.3,312.9 553.8,311.7 554.2,310.7 555.5,313.7 556.0,318.3 556.4,321.5 556.9,324.4 557.3,326.8 558.6,329.8 559.1,324.3 559.5,327.3 560.0,322.3 560.4,319.3 561.7,316.2 562.2,311.4 562.6,313.0 563.1,317.5 563.5,314.9 564.8,314.6 565.3,315.0 565.7,316.4 566.2,317.7 566.6,316.8 567.9,316.9 568.4,318.7 568.8,316.4 569.3,318.6 569.7,319.3 571.0,317.2 571.5,314.3 571.9,316.5 572.4,315.1 572.8,311.9 574.2,310.3 574.6,310.7 575.0,302.4 575.5,303.6 575.9,289.6 577.3,292.5 577.7,283.2 578.1,282.5 578.6,276.3 579.0,281.6 580.4,297.5 580.8,310.0 581.2,308.4 581.7,308.3 582.1,308.2 583.5,308.6 583.9,310.1 584.4,304.3 584.8,305.2 585.2,306.6 586.6,303.0 587.0,301.3 587.5,301.2 587.9,305.7 588.3,300.7 589.7,304.0 590.1,305.5 590.6,306.0 591.0,303.1 591.4,303.8 592.8,304.0 593.2,305.8 593.7,306.0 594.1,304.1 594.6,306.2 595.9,301.6 596.3,294.5 596.8,292.4 597.2,294.5 597.7,302.7 599.0,305.3 599.4,308.5 599.9,310.7 600.3,312.0 600.8,311.6 602.1,311.4 602.5,312.9 603.0,314.3 603.4,310.8 603.9,313.7 605.2,311.5 605.6,313.9 606.1,310.8 606.5,308.4 607.0,308.3 608.3,305.2 608.7,309.7 609.2,307.4 609.6,305.7 610.1,307.2 611.4,307.1 611.8,304.2 612.3,308.7 612.7,310.4 613.2,314.7 614.5,313.2 614.9,312.1 615.4,309.0 615.8,312.2 616.3,310.4 617.6,309.1 618.1,306.1 618.5,307.6 618.9,309.1 619.4,311.3 620.7,311.6 621.2,308.6 621.6,303.7 622.0,303.4 622.5,301.4 623.8,307.6 624.3,310.3 624.7,315.1 625.1,318.7 625.6,317.5 626.9,314.8 627.4,314.8 627.8,312.5 628.3,315.5 628.7,322.7 630.0,321.0 630.5,323.6 630.9,325.0 631.4,327.5 631.8,326.8 633.1,327.6 633.6,326.7 634.0,323.1 634.5,313.3 634.9,313.4 636.2,314.3 636.7,317.8 637.1,316.4 637.6,316.1 638.0,315.9 639.3,316.4 639.8,317.7 640.2,320.4 640.7,320.8 641.1,320.1 642.4,318.8 642.9,315.7 643.3,322.7 643.8,321.8 644.2,317.9 644.8,316.7 645.4,322.5 646.0,317.2 646.6,322.7 647.3,320.1 647.9,323.1 648.5,321.2 649.1,323.1 649.7,321.7 650.3,322.9 651.0,321.1 651.6,322.8 652.2,320.5 652.8,323.1 653.4,321.1 654.0,324.6 654.7,323.2 655.3,326.8 655.9,326.5 656.5,330.0 657.1,331.1 658.0,333.4 658.4,332.4 659.0,331.2 659.6,326.3 660.2,329.2 660.8,324.0 661.4,327.6 662.1,325.0 662.7,327.9 663.3,325.2 663.9,328.5 664.5,325.1 665.2,328.5 665.8,326.0 666.4,329.0 667.0,326.1 667.6,330.0 668.2,322.9 668.9,328.9 669.5,316.0 670.0,312.9 670.7,312.2 671.0,311.8 671.9,313.6 672.6,319.1 673.2,315.3 673.8,318.2 674.4,315.5 675.0,316.9 675.6,311.4 676.3,314.7 677.7,299.0 678.5,305.9 679.3,301.7 680.2,308.0 681.0,303.1 681.9,308.7 682.7,302.4 683.5,309.4 684.4,304.5 685.2,308.0 686.0,299.0 686.9,296.2 687.7,298.3 688.6,300.3 689.5,295.5 690.5,290.6 691.3,286.4 691.9,273.0 692.8,256.0 693.5,240.0 694.1,220.0 694.8,191.0"/>
</svg>
</body></html>
